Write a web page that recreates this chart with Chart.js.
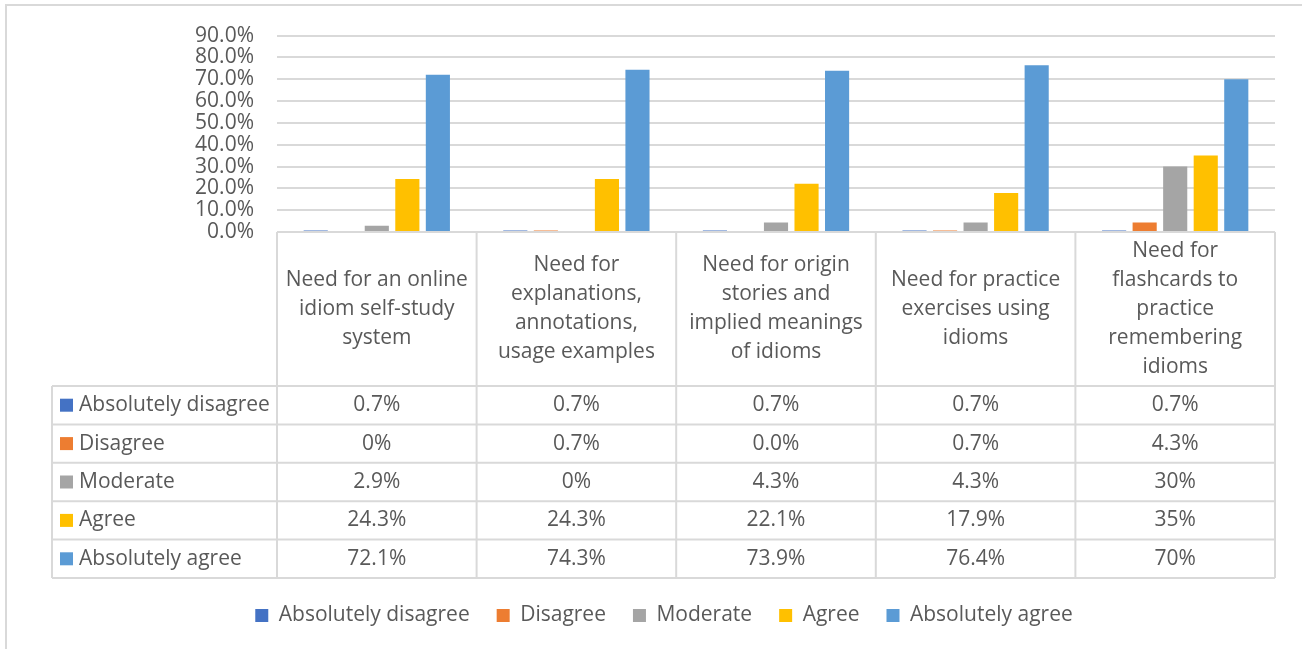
<!DOCTYPE html>
<html>
<head>
<meta charset="utf-8">
<script src="https://cdn.jsdelivr.net/npm/chart.js@4.4.1/dist/chart.umd.min.js"></script>
<style>
  html, body { margin: 0; padding: 0; background: #fff; overflow: hidden; }
  #wrap { position: relative; width: 1302px; height: 649px; }
  #frame { position: absolute; left: 5px; top: 4px; width: 1400px; height: 700px; border: 2px solid #d9d9d9; box-sizing: border-box; }
  #chart { position: absolute; left: 0; top: 0; }
</style>
</head>
<body>
<div id="wrap">
  <div id="frame"></div>
  <canvas id="chart" width="1302" height="649"></canvas>
</div>
<script>
// ---------------------------
// Data
// ---------------------------
const categories = [
  ["Need for an online", "idiom self-study", "system"],
  ["Need for", "explanations,", "annotations,", "usage examples"],
  ["Need for origin", "stories and", "implied meanings", "of idioms"],
  ["Need for practice", "exercises using", "idioms"],
  ["Need for", "flashcards to", "practice", "remembering", "idioms"]
];
const seriesNames  = ["Absolutely disagree", "Disagree", "Moderate", "Agree", "Absolutely agree"];
const seriesColors = ["#4472C4", "#ED7D31", "#A5A5A5", "#FFC000", "#5B9BD5"];

const absDisagree = [0.7, 0.7, 0.7, 0.7, 0.7];
const disagree    = [0, 0.7, 0.0, 0.7, 4.3];
const moderate    = [2.9, 0, 4.3, 4.3, 30];
const agree       = [24.3, 24.3, 22.1, 17.9, 35];
const absAgree    = [72.1, 74.3, 73.9, 76.4, 70];

// values as printed in the data table
const absDisagreeText = ["0.7%", "0.7%", "0.7%", "0.7%", "0.7%"];
const disagreeText    = ["0%", "0.7%", "0.0%", "0.7%", "4.3%"];
const moderateText    = ["2.9%", "0%", "4.3%", "4.3%", "30%"];
const agreeText       = ["24.3%", "24.3%", "22.1%", "17.9%", "35%"];
const absAgreeText    = ["72.1%", "74.3%", "73.9%", "76.4%", "70%"];

const yMax = 90, yStep = 10;

const seriesValues = [absDisagree, disagree, moderate, agree, absAgree];
const tableText    = [absDisagreeText, disagreeText, moderateText, agreeText, absAgreeText];

const FONT = "'Open Sans', 'Liberation Sans', sans-serif";
const FONT_SIZE = 21;
const TEXT = "#595959";
const LINE = "#d9d9d9";
const PAD_LEFT = 53;

// ---------------------------
// Data table under the plot
// ---------------------------
const dataTable = {
  id: "dataTable",
  afterDraw(chart) {
    const { ctx, chartArea: area } = chart;
    const top = area.bottom;
    const headH = 154, rowH = 38.4, tableLeft = 52;
    const colW = (area.right - area.left) / categories.length;
    const rowsTop = top + headH;
    const bottom = rowsTop + rowH * seriesNames.length;

    ctx.save();
    ctx.strokeStyle = LINE;
    ctx.lineWidth = 2;
    ctx.beginPath();
    // header top
    ctx.moveTo(area.left, top); ctx.lineTo(area.right, top);
    // row lines
    for (let r = 0; r <= seriesNames.length; r++) {
      const y = rowsTop + r * rowH;
      ctx.moveTo(tableLeft, y); ctx.lineTo(area.right, y);
    }
    // verticals
    ctx.moveTo(tableLeft, rowsTop); ctx.lineTo(tableLeft, bottom);
    for (let c = 0; c <= categories.length; c++) {
      const x = area.left + c * colW;
      ctx.moveTo(x, top); ctx.lineTo(x, bottom);
    }
    ctx.stroke();

    ctx.fillStyle = TEXT;
    ctx.font = `${FONT_SIZE}px ${FONT}`;
    ctx.textBaseline = "middle";
    ctx.textAlign = "center";

    // category headers
    const lh = 29;
    categories.forEach((lines, i) => {
      const cx = chart.scales.x.getPixelForValue(i);
      const y0 = top + headH / 2 - (lines.length - 1) * lh / 2;
      lines.forEach((t, k) => ctx.fillText(t, cx, y0 + k * lh));
    });

    // rows
    seriesNames.forEach((name, r) => {
      const cy = rowsTop + r * rowH + rowH / 2;
      ctx.fillStyle = seriesColors[r];
      ctx.fillRect(tableLeft + 8, cy - 6.5, 13, 13);
      ctx.fillStyle = TEXT;
      ctx.textAlign = "left";
      ctx.fillText(name, tableLeft + 27, cy);
      ctx.textAlign = "center";
      tableText[r].forEach((t, i) => {
        ctx.fillText(t, chart.scales.x.getPixelForValue(i), cy);
      });
    });
    ctx.restore();
  }
};

// ---------------------------
// Chart
// ---------------------------
new Chart(document.getElementById("chart"), {
  type: "bar",
  data: {
    labels: categories,
    datasets: seriesNames.map((name, i) => ({
      label: name,
      data: seriesValues[i],
      backgroundColor: seriesColors[i],
      categoryPercentage: 0.765,
      barPercentage: 0.79
    }))
  },
  options: {
    responsive: false,
    animation: false,
    layout: { padding: { top: 34, right: 27, bottom: 13, left: PAD_LEFT } },
    plugins: {
      tooltip: { enabled: false },
      legend: {
        position: "bottom",
        labels: {
          boxWidth: 13,
          boxHeight: 13,
          padding: 27,
          color: TEXT,
          font: { family: FONT, size: FONT_SIZE }
        }
      }
    },
    scales: {
      x: {
        ticks: { display: false },
        grid: { display: false },
        border: { display: false },
        afterFit: scale => { scale.height = 346; }
      },
      y: {
        min: 0,
        max: yMax,
        ticks: {
          stepSize: yStep,
          autoSkip: false,
          padding: 23,
          color: TEXT,
          font: { family: FONT, size: FONT_SIZE },
          callback: v => v.toFixed(1) + "%"
        },
        grid: { color: LINE, lineWidth: 2, drawTicks: false },
        border: { display: false },
        afterFit: scale => { scale.width = 277 - PAD_LEFT; }
      }
    }
  },
  plugins: [dataTable]
});
</script>
</body>
</html>
